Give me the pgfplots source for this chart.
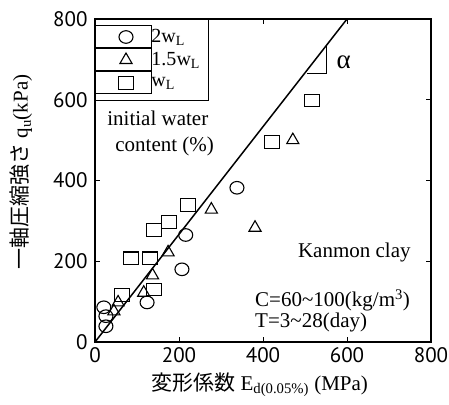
\documentclass[border=0pt]{standalone}
\usepackage{fontspec}
\setmainfont{Liberation Serif}
\newfontfamily\ticksans{PT Sans}
\newfontfamily\jp{Noto Sans CJK JP}
\usepackage{pgfplots}
\usepackage{pgfplotstable}
\pgfplotsset{compat=1.18}

% 2 w_L specimens
\pgfplotstableread{
x y
338 382
216 265
207 180
124 98
21 86
26 64
26 39
}\circdata
% 1.5 w_L specimens
\pgfplotstableread{
x y
471 500
381 283
277 328
174 222
137 165
116 122
55 98
45 76
}\tridata
% w_L specimens
\pgfplotstableread{
x y
516 598
421 495
221 340
176 298
140 278
86 207
131 207
64 116
140 130
}\sqdata

\begin{document}
\begin{tikzpicture}
\begin{axis}[
  at={(0pt,0pt)}, anchor=south west,
  scale only axis, width=336pt, height=323pt,
  xmin=0, xmax=800, ymin=0, ymax=800,
  xtick={0,200,...,800}, ytick={0,200,...,800},
  tick align=inside, major tick length=5pt,
  axis line style={line width=1.3pt},
  every tick/.style={black, line width=0.8pt},
  /pgf/number format/assume math mode=true,
  ticklabel style={font=\ticksans\fontsize{21}{21}\selectfont},
  yticklabel style={xshift=-4pt},
  xticklabel style={yshift=-2pt},
  xlabel={{\jp 変形係数} E\textsubscript{d(0.05\%)} (MPa)},
  xlabel style={at={(axis description cs:0.49,0)}, anchor=base, yshift=-48pt,
    font=\fontsize{21}{21}\selectfont},
  ylabel={{\jp 一軸圧縮強さ} q\textsubscript{u}(kPa)},
  ylabel style={at={(axis description cs:-0.22,0.526)}, anchor=center,
    font=\fontsize{21}{21}\selectfont},
  legend style={at={(0,1)}, anchor=north west, draw=black, line width=1pt,
    fill=white, font=\fontsize{20}{22}\selectfont,
    inner xsep=0pt, inner ysep=6pt, row sep=0pt, column sep=0pt,
    nodes={inner sep=0pt},
    /tikz/every even column/.append style={text width=57pt},
    cells={anchor=west}},
  legend image code/.code={%
    \path (0pt,-11pt) rectangle (55pt,11pt);
    \draw[#1] plot coordinates {(30pt,0pt)};},
  legend cell align=left,
]
\addplot[only marks, black, mark=o, mark size=7pt,
  mark options={line width=1.1pt, yscale=0.9}] table {\circdata};
\addlegendentry{2w\textsubscript{L}}
\addplot[only marks, black, mark=triangle, mark size=7pt,
  mark options={line width=1.1pt}] table {\tridata};
\addlegendentry{1.5w\textsubscript{L}}
\addplot[only marks, black, mark=square, mark size=7.5pt,
  mark options={line width=1.1pt, yscale=0.85}] table {\sqdata};
\addlegendentry{w\textsubscript{L}}

% regression line through the origin and its slope marker
\addplot[black, line width=1.5pt, forget plot] coordinates {(0,0) (600,800)};
\addplot[black, line width=0.8pt, forget plot] coordinates {(505,666) (552,666) (552,736)};
\node[font=\fontsize{27}{27}\selectfont] at (axis cs:592,693) {α};

\node[anchor=base west, inner sep=0pt, font=\fontsize{21}{21}\selectfont] at (axis cs:29,537) {initial water};
\node[anchor=base west, inner sep=0pt, font=\fontsize{21}{21}\selectfont] at (axis cs:48,473) {content (\%)};
\node[anchor=base west, inner sep=0pt, font=\fontsize{21}{21}\selectfont] at (axis cs:483,210) {Kanmon clay};
\node[anchor=base west, inner sep=0pt, font=\fontsize{21}{21}\selectfont] at (axis cs:381,87) {C=60\textasciitilde100(kg/m\textsuperscript{3})};
\node[anchor=base west, inner sep=0pt, font=\fontsize{21}{21}\selectfont] at (axis cs:381,35) {T=3\textasciitilde28(day)};
\end{axis}
\pgfresetboundingbox
\path (-95pt,-62pt) rectangle (354pt,342pt);
\end{tikzpicture}
\end{document}
